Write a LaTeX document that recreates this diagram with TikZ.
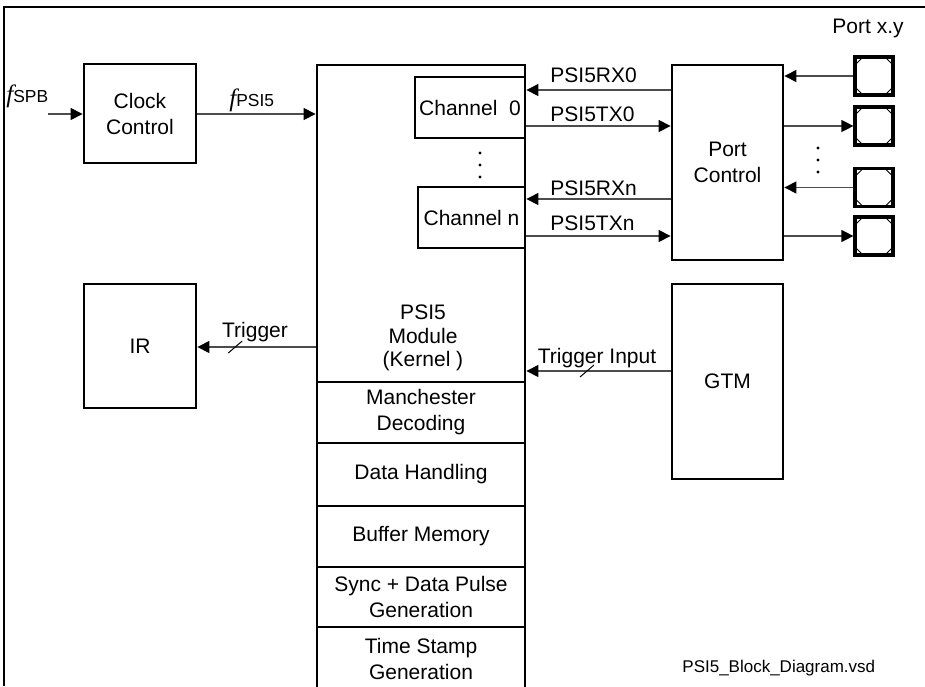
\documentclass[tikz,border=0pt]{standalone}
\usepackage{fontspec}
\setmainfont{Liberation Sans}
\newfontfamily\timesit{Liberation Serif}
\usetikzlibrary{arrows.meta}

\begin{document}
\begin{tikzpicture}[x=0.5pt,y=-0.5pt,>={Triangle[length=6pt,width=6pt,color=black]},
  font=\fontsize{10.5pt}{13pt}\selectfont,
  blk/.style={draw,line width=1.4pt,inner sep=0pt,align=center},
  sig/.style={->,draw=black!70,line width=0.6pt},
  tick/.style={line width=0.5pt},
  lbl/.style={inner sep=0pt,anchor=west},
  pad/.style={draw,line width=1.6pt,minimum size=19pt,inner sep=0pt,
    path picture={\draw[line width=0.4pt]
      ([xshift=4pt]path picture bounding box.north west) -- ([yshift=-4pt]path picture bounding box.north west)
      ([xshift=-4pt]path picture bounding box.north east) -- ([yshift=-4pt]path picture bounding box.north east)
      ([xshift=4pt]path picture bounding box.south west) -- ([yshift=4pt]path picture bounding box.south west)
      ([xshift=-4pt]path picture bounding box.south east) -- ([yshift=4pt]path picture bounding box.south east);}}]
\useasboundingbox (0,0) rectangle (925,686);
\clip (0,0) rectangle (925,686);
\draw[line width=1pt](4,686)--(4,7)--(925,7);

% clock and interrupt
\node[blk,minimum width=56pt,minimum height=49.5pt](clk) at (140,113.5){Clock\\Control};
\node[blk,minimum width=56pt,minimum height=62pt](ir) at (140,346){IR};

% PSI5 module
\node[blk,minimum width=104pt,minimum height=158.5pt](ker) at (421,223.5){};
\node[align=center,font=\fontsize{10.5pt}{11.8pt}\selectfont](kert) at (423,338){PSI5\\Module\\(Kernel )};
\node[blk,minimum width=55pt,minimum height=30.5pt](ch0) at (470,107.5){Channel\ \ 0};
\node[blk,minimum width=53.5pt,minimum height=30.5pt](chn) at (471.5,217.5){Channel n};
\node[blk,minimum width=104pt,minimum height=30.5pt](man) at (421,412.5){Manchester\\Decoding};
\node[blk,minimum width=104pt,minimum height=31.5pt](dat) at (421,474.5){Data Handling};
\node[blk,minimum width=104pt,minimum height=30.5pt](buf) at (421,536.5){Buffer Memory};
\node[blk,minimum width=104pt,minimum height=30pt](syn) at (421,597){Sync + Data Pulse\\Generation};
\node[blk,minimum width=104pt,minimum height=31.5pt](tim) at (421,658.5){Time Stamp\\Generation};
\foreach \y in {153,165,177}
  \fill(480,\y)circle(0.8pt);

% port side
\node[blk,minimum width=55.5pt,minimum height=97.5pt](pc) at (727.5,162.5){Port\\Control};
\node[blk,minimum width=55.5pt,minimum height=97.5pt](gtm) at (727.5,381.5){GTM};
\node[pad](p1) at (874,76){};
\node[pad](p2) at (874,126){};
\node[pad](p3) at (874,187.5){};
\node[pad](p4) at (874,236){};
\node(portl) at (868,28){Port x.y};
\foreach \y in {148,160,172}
  \fill(818,\y)circle(0.8pt);

% clocks
\coordinate(spb) at (48,114);
\draw[sig](spb)--(clk.west|-spb);
\draw[sig](clk.east|-spb)--(ker.west|-spb);
\node[inner sep=0pt,anchor=base west](spbl) at (6,102){{\timesit\itshape\fontsize{12.5pt}{12pt}\selectfont f}{\fontsize{8.7pt}{10pt}\selectfont SPB}};
\node[inner sep=0pt,anchor=base west](psil) at (229,106){{\timesit\itshape\fontsize{12.5pt}{12pt}\selectfont f}{\fontsize{8.7pt}{10pt}\selectfont PSI5}};

% channel lines
\coordinate(rx0) at (0,90);
\coordinate(tx0) at (0,126);
\coordinate(rxn) at (0,199);
\coordinate(txn) at (0,236);
\draw[sig](pc.west|-rx0)--(ch0.east|-rx0);
\draw[sig](ch0.east|-tx0)--(pc.west|-tx0);
\draw[sig](pc.west|-rxn)--(chn.east|-rxn);
\draw[sig](chn.east|-txn)--(pc.west|-txn);
\node[lbl](rx0l) at (550,75){PSI5RX0};
\node[lbl](tx0l) at (550,114){PSI5TX0};
\node[lbl](rxnl) at (550,188){PSI5RXn};
\node[lbl](txnl) at (550,223){PSI5TXn};

% pads
\draw[sig](p1.west)--(pc.east|-p1.west);
\draw[sig](pc.east|-p2.west)--(p2.west);
\draw[sig](p3.west)--(pc.east|-p3.west);
\draw[sig](pc.east|-p4.west)--(p4.west);

% triggers
\coordinate(trg) at (0,347);
\coordinate(tin) at (0,371);
\draw[sig](ker.west|-trg)--coordinate[pos=.68](trgs)(ir.east|-trg);
\draw[tick]([shift={(-7,6)}]trgs)--([shift={(7,-6)}]trgs);
\node(trgl) at (255,332){Trigger};
\draw[sig](gtm.west|-tin)--coordinate[pos=.58](tins)(ker.east|-tin);
\draw[tick]([shift={(-7,6)}]tins)--([shift={(7,-6)}]tins);
\node(tinl) at (597,358){Trigger Input};

\node[lbl,font=\fontsize{8.5pt}{10pt}\selectfont](file) at (682,668){PSI5\_Block\_Diagram.vsd};
\end{tikzpicture}
\end{document}
